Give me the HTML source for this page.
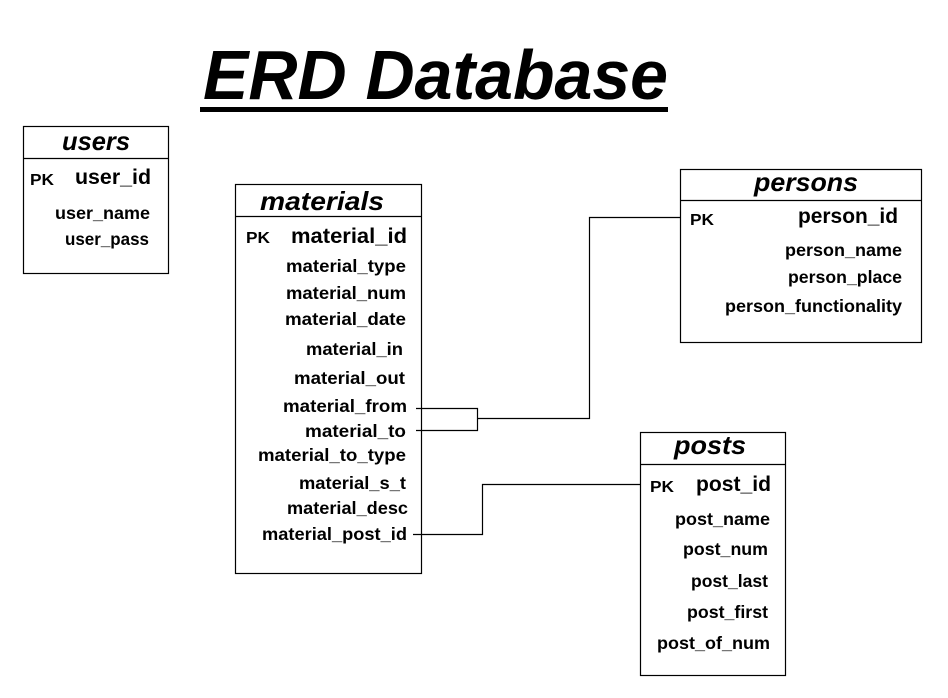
<!DOCTYPE html>
<html><head><meta charset="utf-8"><style>html,body{margin:0;padding:0;background:#fff}svg{display:block}</style></head>
<body>
<svg width="948" height="698" xmlns="http://www.w3.org/2000/svg" font-family="Liberation Sans, sans-serif" font-weight="bold">
<rect width="948" height="698" fill="#fff"/>
<text x="203" y="99" font-size="70" font-style="italic" textLength="465" lengthAdjust="spacingAndGlyphs">ERD Database</text>
<rect x="200" y="107" width="468" height="5" fill="#000"/>
<g fill="none" stroke="#000" stroke-width="1.2">
<rect x="23.5" y="126.5" width="145" height="147"/><line x1="23" y1="158.5" x2="168" y2="158.5"/>
<rect x="235.5" y="184.5" width="186" height="389"/><line x1="235" y1="216.5" x2="421" y2="216.5"/>
<rect x="680.5" y="169.5" width="241" height="173"/><line x1="680" y1="200.5" x2="921" y2="200.5"/>
<rect x="640.5" y="432.5" width="145" height="243"/><line x1="640" y1="464.5" x2="785" y2="464.5"/>
<polyline points="416,408.5 477.5,408.5 477.5,430.5 416,430.5"/>
<polyline points="477,418.5 589.5,418.5 589.5,217.5 680,217.5"/>
<polyline points="413,534.5 482.5,534.5 482.5,484.5 640,484.5"/>
</g>
<g font-style="italic" font-size="26" text-anchor="middle">
<text x="96" y="150" textLength="68" lengthAdjust="spacingAndGlyphs">users</text>
<text x="322" y="210" textLength="124" lengthAdjust="spacingAndGlyphs">materials</text>
<text x="806" y="191" textLength="104" lengthAdjust="spacingAndGlyphs">persons</text>
<text x="710" y="454" textLength="72" lengthAdjust="spacingAndGlyphs">posts</text>
</g>
<g font-size="16">
<text x="30" y="185" textLength="24" lengthAdjust="spacingAndGlyphs">PK</text>
<text x="246" y="243" textLength="24" lengthAdjust="spacingAndGlyphs">PK</text>
<text x="690" y="225" textLength="24" lengthAdjust="spacingAndGlyphs">PK</text>
<text x="650" y="492" textLength="24" lengthAdjust="spacingAndGlyphs">PK</text>
</g>
<g font-size="21">
<text x="75" y="184" textLength="76" lengthAdjust="spacingAndGlyphs">user_id</text>
<text x="291" y="243" textLength="116" lengthAdjust="spacingAndGlyphs">material_id</text>
<text x="798" y="223" textLength="100" lengthAdjust="spacingAndGlyphs">person_id</text>
<text x="696" y="491" textLength="75" lengthAdjust="spacingAndGlyphs">post_id</text>
</g>
<g font-size="17.5" text-anchor="end">
<text x="150" y="219" textLength="95" lengthAdjust="spacingAndGlyphs">user_name</text>
<text x="149" y="245" textLength="84" lengthAdjust="spacingAndGlyphs">user_pass</text>
<text x="406" y="272" textLength="120" lengthAdjust="spacingAndGlyphs">material_type</text>
<text x="406" y="299" textLength="120" lengthAdjust="spacingAndGlyphs">material_num</text>
<text x="406" y="325" textLength="121" lengthAdjust="spacingAndGlyphs">material_date</text>
<text x="403" y="355" textLength="97" lengthAdjust="spacingAndGlyphs">material_in</text>
<text x="405" y="384" textLength="111" lengthAdjust="spacingAndGlyphs">material_out</text>
<text x="407" y="412" textLength="124" lengthAdjust="spacingAndGlyphs">material_from</text>
<text x="406" y="437" textLength="101" lengthAdjust="spacingAndGlyphs">material_to</text>
<text x="406" y="461" textLength="148" lengthAdjust="spacingAndGlyphs">material_to_type</text>
<text x="406" y="489" textLength="107" lengthAdjust="spacingAndGlyphs">material_s_t</text>
<text x="408" y="514" textLength="121" lengthAdjust="spacingAndGlyphs">material_desc</text>
<text x="407" y="540" textLength="145" lengthAdjust="spacingAndGlyphs">material_post_id</text>
<text x="902" y="256" textLength="117" lengthAdjust="spacingAndGlyphs">person_name</text>
<text x="902" y="283" textLength="114" lengthAdjust="spacingAndGlyphs">person_place</text>
<text x="902" y="312" textLength="177" lengthAdjust="spacingAndGlyphs">person_functionality</text>
<text x="770" y="525" textLength="95" lengthAdjust="spacingAndGlyphs">post_name</text>
<text x="768" y="555" textLength="85" lengthAdjust="spacingAndGlyphs">post_num</text>
<text x="768" y="587" textLength="77" lengthAdjust="spacingAndGlyphs">post_last</text>
<text x="768" y="618" textLength="81" lengthAdjust="spacingAndGlyphs">post_first</text>
<text x="770" y="649" textLength="113" lengthAdjust="spacingAndGlyphs">post_of_num</text>
</g>
</svg>
</body></html>
